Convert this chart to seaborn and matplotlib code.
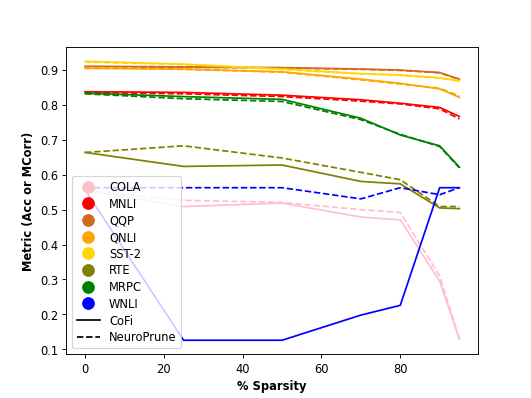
import matplotlib
matplotlib.use("Agg")
import matplotlib.pyplot as plt
from matplotlib.lines import Line2D
import seaborn as sns
import pandas as pd

sparsity = [0, 25, 50, 70, 80, 90, 95]
tasks = ["COLA", "MNLI", "QQP", "QNLI", "SST-2", "RTE", "MRPC", "WNLI"]
colors = ["pink", "red", "chocolate", "orange", "gold", "olive", "green", "blue"]

cofi = {
    "COLA":  [0.555, 0.509, 0.519, 0.479, 0.471, 0.295, 0.129],
    "MNLI":  [0.838, 0.836, 0.828, 0.815, 0.805, 0.793, 0.767],
    "QQP":   [0.911, 0.909, 0.907, 0.903, 0.900, 0.893, 0.874],
    "QNLI":  [0.905, 0.903, 0.895, 0.874, 0.862, 0.846, 0.822],
    "SST-2": [0.925, 0.917, 0.903, 0.890, 0.886, 0.878, 0.869],
    "RTE":   [0.664, 0.624, 0.628, 0.581, 0.574, 0.505, 0.503],
    "MRPC":  [0.834, 0.824, 0.816, 0.762, 0.714, 0.683, 0.622],
    "WNLI":  [0.556, 0.126, 0.126, 0.198, 0.226, 0.563, 0.563],
}
neuroprune = {
    "COLA":  [0.555, 0.527, 0.521, 0.500, 0.492, 0.310, 0.130],
    "MNLI":  [0.836, 0.832, 0.824, 0.811, 0.803, 0.789, 0.760],
    "QQP":   [0.909, 0.908, 0.906, 0.902, 0.899, 0.892, 0.873],
    "QNLI":  [0.907, 0.902, 0.894, 0.872, 0.860, 0.848, 0.826],
    "SST-2": [0.923, 0.916, 0.902, 0.889, 0.885, 0.877, 0.868],
    "RTE":   [0.664, 0.683, 0.648, 0.607, 0.586, 0.509, 0.509],
    "MRPC":  [0.832, 0.818, 0.810, 0.758, 0.716, 0.681, 0.620],
    "WNLI":  [0.563, 0.563, 0.563, 0.531, 0.563, 0.543, 0.563],
}

fig, ax = plt.subplots(figsize=(6.4, 4.8), dpi=83)

for task, col in zip(tasks, colors):
    df_c = pd.DataFrame({"x": sparsity, "y": cofi[task]})
    df_n = pd.DataFrame({"x": sparsity, "y": neuroprune[task]})
    sns.lineplot(data=df_c, x="x", y="y", color=col, linestyle="-", ax=ax, linewidth=1.5)
    sns.lineplot(data=df_n, x="x", y="y", color=col, linestyle="--", ax=ax, linewidth=1.5)

handles = [Line2D([0], [0], marker="o", color="w", markerfacecolor=c,
                  markeredgecolor=c, markersize=10, linestyle="None", label=t)
           for t, c in zip(tasks, colors)]
handles += [Line2D([0], [0], color="black", linestyle="-", label="CoFi"),
            Line2D([0], [0], color="black", linestyle="--", label="NeuroPrune")]
ax.legend(handles=handles, loc="lower left", labelspacing=0.32)

ax.set_xlabel("% Sparsity", fontweight="bold")
ax.set_ylabel("Metric (Acc or MCorr)", fontweight="bold")

fig.savefig("out.png", dpi=83)
